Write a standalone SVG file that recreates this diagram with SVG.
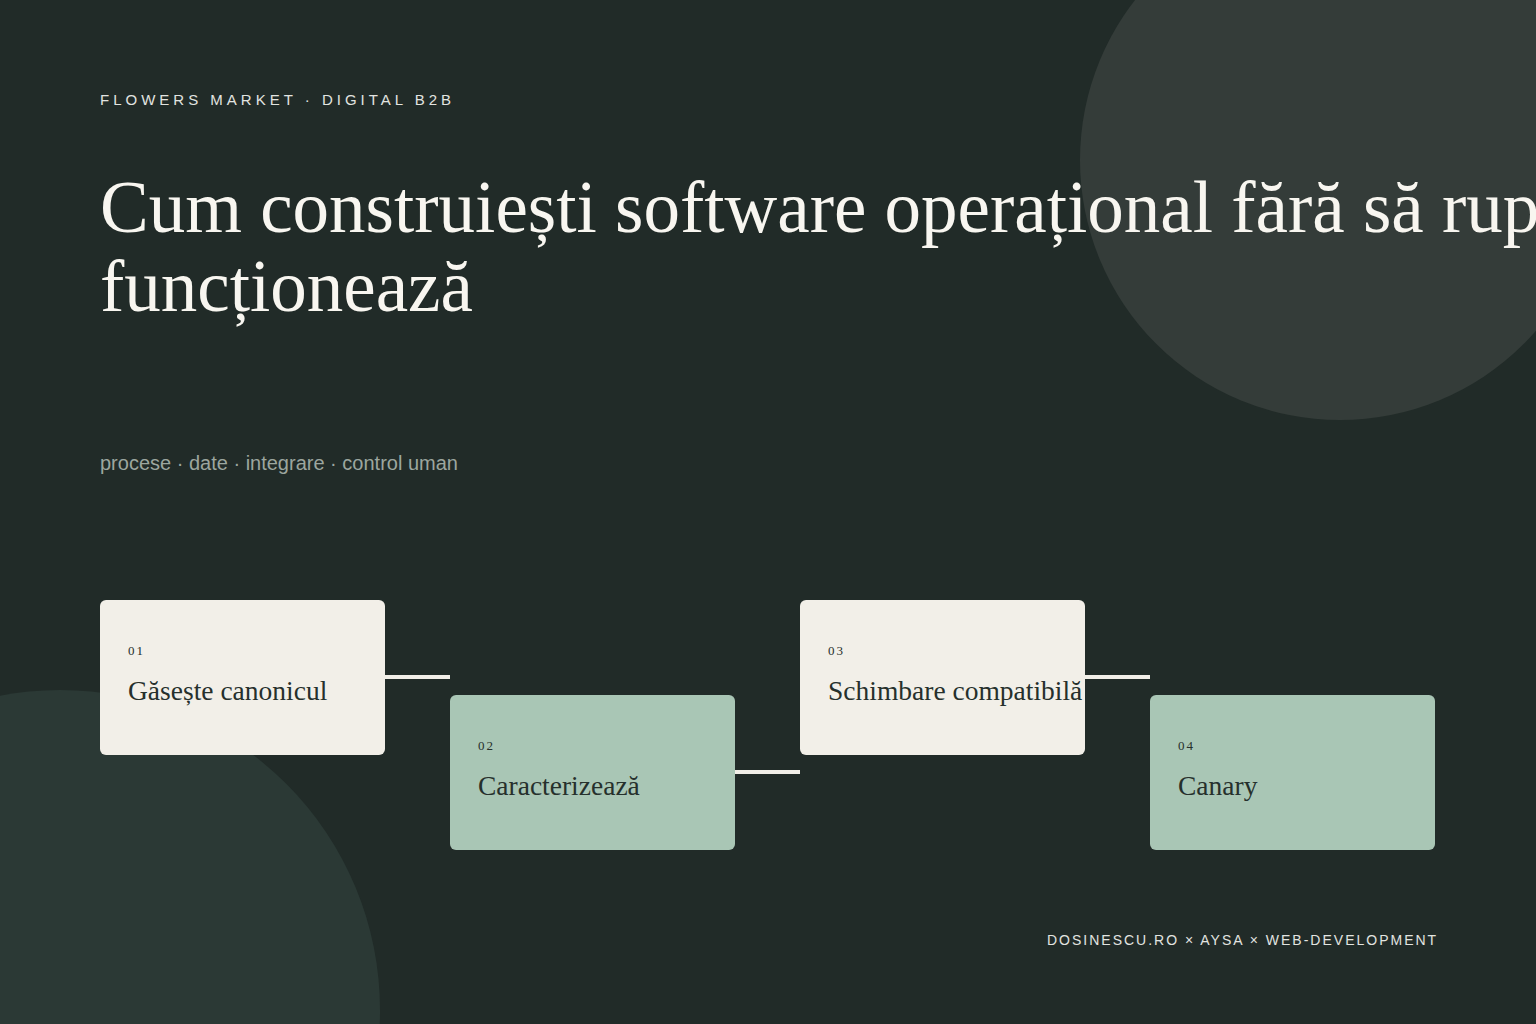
<svg xmlns="http://www.w3.org/2000/svg" width="1536" height="1024" viewBox="0 0 1536 1024">
  <style>
    .eyebrow { font-family: "Liberation Sans", Arial, sans-serif; font-size: 15px; letter-spacing: 4px; fill: #e2e4e0; }
    .title { font-family: "Liberation Serif", "Times New Roman", serif; font-size: 73px; fill: #f8f6f0; }
    .sub { font-family: "Liberation Sans", Arial, sans-serif; font-size: 20px; fill: #9ca69f; }
    .foot { font-family: "Liberation Sans", Arial, sans-serif; font-size: 14px; letter-spacing: 2px; fill: #e2e4e0; }
    .num { font-family: "Liberation Serif", "Times New Roman", serif; font-size: 13px; letter-spacing: 2px; fill: #26302c; }
    .label { font-family: "Liberation Serif", "Times New Roman", serif; font-size: 27.5px; fill: #26302c; }
    .cream { fill: #f2efe8; }
    .green { fill: #a9c6b5; }
    .conn { stroke: #f2efe8; stroke-width: 4; fill: none; }
  </style>
  <rect width="1536" height="1024" fill="#212b28"/>
  <circle cx="1340" cy="160" r="260" fill="#343c39"/>
  <circle cx="60" cy="1010" r="320" fill="#2b3935"/>

  <text class="eyebrow" x="100" y="105">FLOWERS MARKET · DIGITAL B2B</text>
  <text class="title" x="100" y="232">Cum construiești software operațional fără să rup</text>
  <text class="title" x="100" y="311">funcționează</text>
  <text class="sub" x="100" y="470">procese · date · integrare · control uman</text>

  <g id="connectors">
    <line class="conn" x1="385" y1="677" x2="450" y2="677"/>
    <line class="conn" x1="735" y1="772" x2="800" y2="772"/>
    <line class="conn" x1="1085" y1="677" x2="1150" y2="677"/>
  </g>

  <g id="node-01">
    <rect class="cream" x="100" y="600" width="285" height="155" rx="6"/>
    <text class="num" x="128" y="655">01</text>
    <text class="label" x="128" y="700">Găsește canonicul</text>
  </g>
  <g id="node-02">
    <rect class="green" x="450" y="695" width="285" height="155" rx="6"/>
    <text class="num" x="478" y="750">02</text>
    <text class="label" x="478" y="795">Caracterizează</text>
  </g>
  <g id="node-03">
    <rect class="cream" x="800" y="600" width="285" height="155" rx="6"/>
    <text class="num" x="828" y="655">03</text>
    <text class="label" x="828" y="700">Schimbare compatibilă</text>
  </g>
  <g id="node-04">
    <rect class="green" x="1150" y="695" width="285" height="155" rx="6"/>
    <text class="num" x="1178" y="750">04</text>
    <text class="label" x="1178" y="795">Canary</text>
  </g>

  <text class="foot" x="1047" y="945">DOSINESCU.RO × AYSA × WEB-DEVELOPMENT</text>
</svg>
